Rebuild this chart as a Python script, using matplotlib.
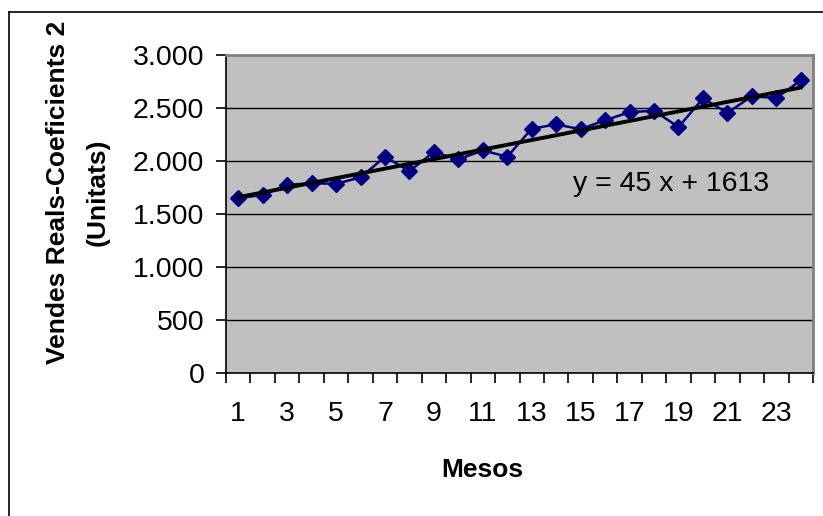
import matplotlib
matplotlib.use("Agg")
import matplotlib.pyplot as plt
from matplotlib.lines import Line2D
import numpy as np

plt.rcParams['font.family'] = ['Liberation Sans', 'DejaVu Sans']

months = list(range(1, 25))
sales = [1650, 1680, 1775, 1790, 1785, 1845, 2040, 1905, 2085, 2015, 2100, 2040,
         2305, 2345, 2300, 2385, 2460, 2475, 2320, 2590, 2455, 2610, 2595, 2760]
trend = [45, 1613]  # slope, intercept
xtick_labels = [str(m) for m in months if m % 2 == 1]
yticks = [0, 500, 1000, 1500, 2000, 2500, 3000]

W, H = 823, 516
fig = plt.figure(figsize=(W / 100, H / 100), dpi=100)
fig.patch.set_facecolor('white')

# chart border (extends past right/bottom)
fig.add_artist(Line2D([9 / W, 9 / W], [1 - 12 / H, 0], transform=fig.transFigure, color='black', lw=1.2))
fig.add_artist(Line2D([9 / W, 1], [1 - 12 / H, 1 - 12 / H], transform=fig.transFigure, color='black', lw=1.2))

L, R, T, B = 226, 813, 55, 373
ax = fig.add_axes([L / W, 1 - B / H, (R - L) / W, (B - T) / H])
ax.set_facecolor('#C0C0C0')

x = np.array(months)
ax.plot(x, sales, color='#000080', lw=1.8, marker='D', ms=8.5,
        markerfacecolor='#000080', markeredgecolor='#000080', zorder=3)
ax.plot(x, trend[0] * x + trend[1], color='black', lw=2.8, zorder=4)

ax.set_xlim(0.5, 24.5)
ax.set_ylim(0, 3000)
ax.set_yticks(yticks)
ax.set_yticklabels([f"{v:,}".replace(',', '.') for v in yticks], fontsize=20.5)
for v in yticks[1:-1]:
    ax.axhline(v, color='black', lw=1.0, zorder=1)

ax.set_xticks([m for m in months if m % 2 == 1])
ax.set_xticklabels(xtick_labels, fontsize=20.5)
ax.set_xticks(np.arange(0.5, 25, 1), minor=True)
ax.tick_params(axis='x', which='major', length=0, pad=20)
ax.tick_params(axis='x', which='minor', length=7.5, width=1.2, direction='out', color='black')
ax.tick_params(axis='y', which='major', length=7.5, width=1.2, direction='out', pad=8)

for s in ['top', 'right']:
    ax.spines[s].set_color('#808080')
    ax.spines[s].set_linewidth(2)
for s in ['left', 'bottom']:
    ax.spines[s].set_color('black')
    ax.spines[s].set_linewidth(1.2)

ax.text(0.758, 0.572, f"y = {trend[0]} x + {trend[1]}", transform=ax.transAxes,
        ha='center', va='baseline', fontsize=20.5, zorder=5)

fig.text(482 / W, 1 - 470 / H, "Mesos", ha='center', va='center', fontsize=19, fontweight='bold')
fig.text(78 / W, 1 - 192 / H, "Vendes Reals-Coeficients 2\n(Unitats)", ha='center', va='center',
         rotation=90, fontsize=19, fontweight='bold', multialignment='center', linespacing=1.85)

fig.savefig('out.png', dpi=100)
